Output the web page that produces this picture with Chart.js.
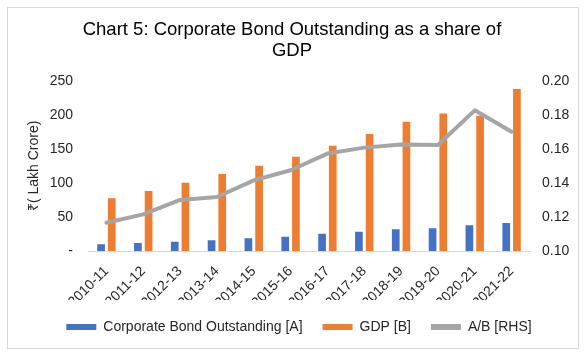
<!DOCTYPE html>
<html>
<head>
<meta charset="utf-8">
<script src="https://cdn.jsdelivr.net/npm/chart.js@4"></script>
<style>
  html, body { margin: 0; padding: 0; background: #fff; }
  #wrap { position: relative; width: 584px; height: 355px; }
  #frame { position: absolute; left: 7px; top: 7px; width: 572px; height: 342px; box-sizing: border-box; border: 1px solid #d9d9d9; pointer-events: none; }
  canvas { position: absolute; left: 0; top: 0; }
</style>
</head>
<body>
<div id="wrap">
  <canvas id="c" width="584" height="355"></canvas>
  <div id="frame"></div>
</div>
<script>
const categories = ['2010-11','2011-12','2012-13','2013-14','2014-15','2015-16','2016-17','2017-18','2018-19','2019-20','2020-21','2021-22'];
const bondOutstanding = [9.8, 11.7, 13.7, 15.7, 18.6, 21.0, 25.4, 28.3, 31.8, 33.3, 37.7, 41.1];
const gdp = [77.4, 88.1, 100.3, 113.1, 125.3, 138.5, 154.6, 171.8, 189.9, 202.0, 198.7, 237.9];
const ratio = [0.1166, 0.1215, 0.1300, 0.1317, 0.1415, 0.1474, 0.1572, 0.1607, 0.1626, 0.1622, 0.1826, 0.1700];
const seriesNames = ['Corporate Bond Outstanding [A]', 'GDP [B]', 'A/B [RHS]'];
const titleLines = ['Chart 5: Corporate Bond Outstanding as a share of', 'GDP'];
const leftAxisTitle = '₹( Lakh Crore)';

const FONT = "'Liberation Sans', Arial, sans-serif";
const legendShift = {
  id: 'legendShift',
  afterLayout(chart) {
    if (chart.legend) { chart.legend.left += 7; chart.legend.right += 7; }
  }
};

new Chart(document.getElementById('c'), {
  data: {
    labels: categories,
    datasets: [
      { type: 'bar', label: seriesNames[0], data: bondOutstanding, backgroundColor: '#4472c4', yAxisID: 'y', order: 1,
        categoryPercentage: 0.58, barPercentage: 0.72 },
      { type: 'bar', label: seriesNames[1], data: gdp, backgroundColor: '#ed7d31', yAxisID: 'y', order: 1,
        categoryPercentage: 0.58, barPercentage: 0.72 },
      { type: 'line', label: seriesNames[2], data: ratio, borderColor: '#a5a5a5', backgroundColor: '#a5a5a5', borderWidth: 4,
        pointRadius: 0, tension: 0, yAxisID: 'y1', order: 0, borderCapStyle: 'round', borderJoinStyle: 'round' }
    ]
  },
  options: {
    responsive: false,
    animation: false,
    layout: { padding: { left: 0, right: 0, top: 0, bottom: 11 } },
    plugins: {
      tooltip: { enabled: false },
      title: {
        display: true, text: titleLines, color: '#000',
        font: { family: FONT, size: 18.5, weight: 'normal', lineHeight: 21/18.5 },
        padding: { top: 19, bottom: 19.7 }
      },
      legend: {
        position: 'bottom',
        labels: {
          font: { family: FONT, size: 14 }, color: '#262626',
          boxWidth: 30, boxHeight: 6, padding: 20,
          sort: (a, b) => a.datasetIndex - b.datasetIndex,
          generateLabels(chart) {
            const items = Chart.defaults.plugins.legend.labels.generateLabels(chart);
            items.forEach(it => { it.lineWidth = 0; });
            return items;
          }
        }
      }
    },
    scales: {
      x: {
        grid: { display: false, drawTicks: false },
        border: { display: true, color: '#d9d9d9', width: 1 },
        ticks: { font: { family: FONT, size: 14 }, color: '#262626', maxRotation: 45, minRotation: 45, autoSkip: false, padding: 12 },
        afterFit(s) { s.height = 49; }
      },
      y: {
        position: 'left', min: 0, max: 250,
        grid: { display: false, drawTicks: false },
        border: { display: false },
        ticks: { stepSize: 50, padding: 15, font: { family: FONT, size: 14 }, color: '#262626',
          callback: v => v === 0 ? '-' : String(v) },
        title: { display: true, text: leftAxisTitle, color: '#262626', font: { family: FONT, size: 14 }, padding: { top: 26, bottom: 0 } },
        afterFit(s) { s.width = 88; }
      },
      y1: {
        position: 'right', min: 0.10, max: 0.20,
        grid: { display: false, drawTicks: false },
        border: { display: false },
        ticks: { stepSize: 0.02, padding: 12, font: { family: FONT, size: 14 }, color: '#262626',
          callback: v => Number(v).toFixed(2) },
        afterFit(s) { s.width = 54; }
      }
    }
  },
  plugins: [legendShift]
});
</script>
</body>
</html>
